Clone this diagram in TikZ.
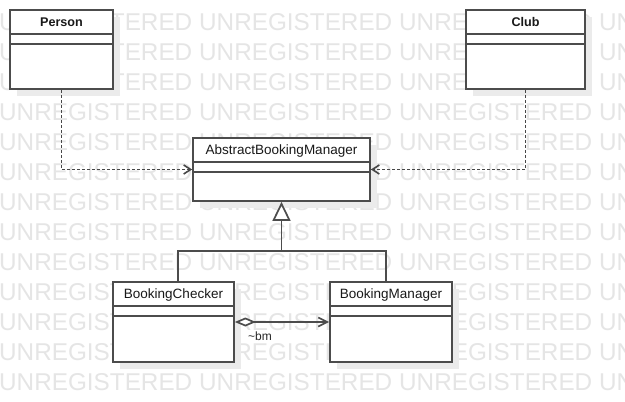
\documentclass[tikz,border=0pt]{standalone}
\usepackage{fontspec}
\setmainfont{Liberation Sans}
\usetikzlibrary{arrows.meta,shadows}

\begin{document}
\begin{tikzpicture}[x=1pt,y=-1pt,
  classbox/.style={draw=black!70,line width=1.7pt,fill=white,inner sep=0pt,minimum height=79pt,
    drop shadow={shadow xshift=7pt,shadow yshift=-7pt,fill=black!8,opacity=1}},
  classname/.style={inner sep=0pt,anchor=base,text=black!90,font=\fontsize{13.5}{16}\selectfont},
  boldname/.style={classname,font=\fontsize{12.6}{15}\selectfont\bfseries},
  classline/.style={draw=black!70,line width=1.7pt},
  dependency/.style={draw=black!72,line width=1.6pt,dash pattern=on 3pt off 2pt,
    -{Straight Barb[length=7pt,width=9pt]}},
  watermark/.style={text=black!10,inner sep=0pt,anchor=west,font=\fontsize{24.3}{28}\selectfont}]
  \useasboundingbox[fill=white] (0,0) rectangle (625,402);
  % background text
  \foreach \r in {0,...,12}
    \foreach \c in {0,...,3}
      \node[watermark] (wm-\r-\c) at (\c*200-1,22+30*\r) {UNREGISTERED};
  % classes
  \node[classbox,minimum width=103pt] (person) at (61.5,49.5) {};
  \node[classbox,minimum width=119pt] (club) at (525.5,49.5) {};
  \node[classbox,minimum width=177pt,minimum height=63pt] (abm) at (281.5,169.5) {};
  \node[classbox,minimum width=121pt,minimum height=80pt] (checker) at (173.5,322) {};
  \node[classbox,minimum width=122pt,minimum height=80pt] (manager) at (391,322) {};
  \foreach \n in {person,club,abm,checker,manager}
    \foreach \d in {24.5,34.5}
      \draw[classline] ([yshift=-\d pt]\n.north west) -- ([yshift=-\d pt]\n.north east);
  \node[boldname] (person-title) at ([yshift=-17pt]person.north) {Person};
  \node[boldname] (club-title) at ([yshift=-17pt]club.north) {Club};
  \node[classname] (abm-title) at ([yshift=-17pt]abm.north) {AbstractBookingManager};
  \node[classname] (checker-title) at ([yshift=-17pt]checker.north) {BookingChecker};
  \node[classname] (manager-title) at ([yshift=-17pt]manager.north) {BookingManager};
  % dependencies
  \draw[dependency] (person.south) |- (abm.west);
  \draw[dependency] (club.south) |- (abm.east);
  % generalization
  \coordinate (fork) at ([yshift=-49pt]abm.south);
  \draw[classline] ([xshift=4.5pt]checker.north) |- (fork) -| ([xshift=-5pt]manager.north);
  \draw[classline,-{Triangle[open,fill=white,length=19pt,width=18pt]}] (fork) -- (abm.south);
  % aggregation
  \draw[classline,{Diamond[open,fill=white,length=21pt,width=9pt]}-{Straight Barb[length=9pt,width=9pt]}]
    (checker.east) -- (manager.west)
    node[pos=0,anchor=west,xshift=12.5pt,yshift=-14pt,inner sep=0pt,text=black!85,
      font=\fontsize{12}{14}\selectfont] (bm-label) {\textasciitilde bm};
\end{tikzpicture}
\end{document}
